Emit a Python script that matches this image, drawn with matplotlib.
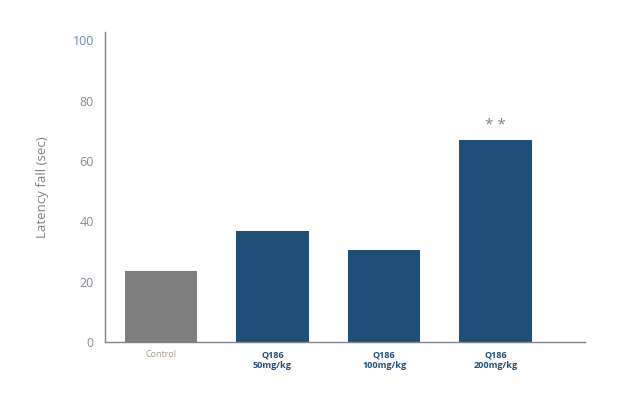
import matplotlib
matplotlib.use("Agg")
import matplotlib.pyplot as plt

categories = ["Control", "Q186\n50mg/kg", "Q186\n100mg/kg", "Q186\n200mg/kg"]
values = [23.5, 36.8, 30.5, 66.9]
bar_colors = ["#7f7f7f", "#1f4e79", "#1f4e79", "#1f4e79"]
label_colors = ["#a8998a", "#1f4e79", "#1f4e79", "#1f4e79"]
yticks = [0, 20, 40, 60, 80, 100]
annotation = "* *"

plt.rcParams['font.family'] = ['Open Sans', 'DejaVu Sans']

fig = plt.figure(figsize=(6.29, 3.98), dpi=100)
ax = fig.add_axes([105/629, 1 - 342/398, (585-105)/629, (342-32)/398])

x = list(range(len(categories)))
ax.bar(x, values, width=0.65, color=bar_colors)

ax.set_xlim(-0.5, 3.8)
ax.set_ylim(0, 102.7)
ax.set_yticks(yticks)
ax.set_yticklabels([str(t) for t in yticks], fontsize=9, color="#8a8a9a")
ax.get_yticklabels()[-1].set_color("#6d82ad")
ax.tick_params(axis='y', length=0, pad=8)
ax.tick_params(axis='x', length=0, pad=6)
ax.set_xticks(x)
ax.set_xticklabels(categories)
for lbl, c, i in zip(ax.get_xticklabels(), label_colors, x):
    lbl.set_color(c)
    lbl.set_fontsize(6.5)
    if i == 0:
        lbl.set_fontweight('normal')
    else:
        lbl.set_fontweight('bold')

for s in ['top', 'right']:
    ax.spines[s].set_visible(False)
for s in ['left', 'bottom']:
    ax.spines[s].set_color("#808080")
    ax.spines[s].set_linewidth(1)

ax.set_ylabel("Latency fall (sec)", fontsize=9.5, color="#808080", labelpad=17)

ax.text(3, values[3] + 2.5, annotation, ha='center', va='bottom', fontsize=11, color="#808080")

fig.savefig("out.png", dpi=100)
